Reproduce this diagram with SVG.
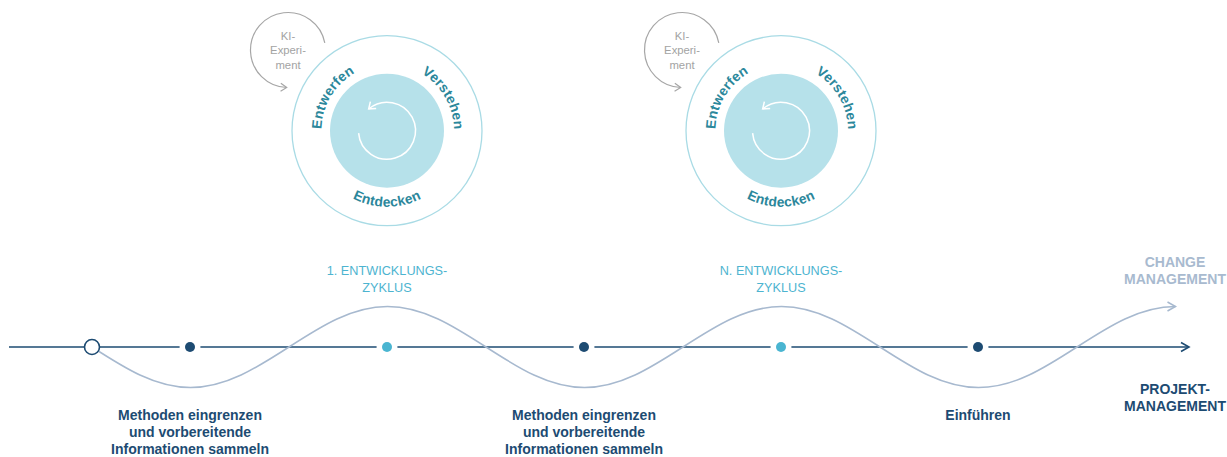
<svg xmlns="http://www.w3.org/2000/svg" xmlns:xlink="http://www.w3.org/1999/xlink" width="1227" height="457" viewBox="0 0 1227 457">
<style>
.ring{fill:none;stroke:#a9dbe5;stroke-width:1.3}
.core{fill:#b6e1ea}
.phase{font-family:"Liberation Sans",Arial,sans-serif;font-weight:bold;font-size:13.8px;fill:#2b879b;letter-spacing:0.2px}
.ki{font-family:"Liberation Sans",Arial,sans-serif;font-size:11.3px;fill:#a3a3a3;text-anchor:middle}
.kiarc{fill:none;stroke:#a6a6a6;stroke-width:1.2}
.inner{fill:none;stroke:#ffffff;stroke-width:1.5}
.cyc{font-family:"Liberation Sans",Arial,sans-serif;font-size:12.7px;fill:#4db4d0;text-anchor:middle}
.lbl{font-family:"Liberation Sans",Arial,sans-serif;font-weight:bold;font-size:14px;fill:#1d4b72;text-anchor:middle}
.chg{font-family:"Liberation Sans",Arial,sans-serif;font-weight:bold;font-size:14px;fill:#a8bacf;text-anchor:middle}
.main{fill:none;stroke:#1d4b72;stroke-width:1.6}
.wave{fill:none;stroke:#a7b9cf;stroke-width:1.5}
.halo{fill:#ffffff}
.dk{fill:#1d4b72}
.lt{fill:#4ab5d1}
</style>
<defs>
<marker id="arrMain" markerUnits="userSpaceOnUse" markerWidth="12" markerHeight="12" viewBox="-10 -6 12 12" refX="0" refY="0" orient="auto">
<path d="M-8,-4.5 L0,0 L-8,4.5" fill="none" stroke="#1d4b72" stroke-width="1.6"/>
</marker>
<marker id="arrWave" markerUnits="userSpaceOnUse" markerWidth="12" markerHeight="12" viewBox="-10 -6 12 12" refX="0" refY="0" orient="auto">
<path d="M-8,-4.5 L0,0 L-8,4.5" fill="none" stroke="#a7b9cf" stroke-width="1.5"/>
</marker>
<marker id="arrKi" markerUnits="userSpaceOnUse" markerWidth="12" markerHeight="12" viewBox="-10 -6 12 12" refX="0" refY="0" orient="auto">
<path d="M-6,-4 L0,0 L-6,4" fill="none" stroke="#a6a6a6" stroke-width="1.2"/>
</marker>
<marker id="arrWhite" markerUnits="userSpaceOnUse" markerWidth="12" markerHeight="12" viewBox="-10 -6 12 12" refX="0" refY="0" orient="auto">
<path d="M-6,-4.5 L0,0 L-6,4.5" fill="none" stroke="#ffffff" stroke-width="1.5"/>
</marker>
<path id="pEntwerfen" d="M-54.7,36.9 A67,67 0 0 1 6.9,-66.6"/>
<path id="pVerstehen" d="M-5.8,-66.7 A67,67 0 0 1 54.9,38.4"/>
<path id="pEntdecken" d="M-43.6,62.3 A76,76 0 0 0 43.6,62.3"/>
</defs>

<g id="connectors">
<path class="main" d="M9,347 H1189" marker-end="url(#arrMain)"/>
<path class="wave" d="M92,347 c32.1,20.7 62.85,40.5 98.5,40.5 c35.65,0 66.4,-19.8 98.5,-40.5 c32.1,-20.7 62.85,-40.5 98.5,-40.5 c35.650,0 66.4,19.8 98.5,40.5 c32.1,20.7 62.85,40.5 98.5,40.5 c35.65,0 66.4,-19.8 98.5,-40.5 c32.1,-20.7 62.85,-40.5 98.5,-40.5 c35.65,0 66.4,19.8 98.5,40.5 c32.1,20.7 62.85,40.5 98.5,40.5 c35.65,0 66.4,-19.8 98.5,-40.5 c32.1,-20.7 62.85,-40.5 98.5,-40.5" marker-end="url(#arrWave)"/>
</g>

<g id="start">
<circle cx="92" cy="347" r="7.5" fill="#ffffff" stroke="#1d4b72" stroke-width="1.6"/>
</g>
<g id="step1">
<circle class="halo" cx="190" cy="347" r="10.5"/>
<circle class="dk" cx="190" cy="347" r="5"/>
<text class="lbl" x="190" y="420">Methoden eingrenzen</text>
<text class="lbl" x="190" y="437">und vorbereitende</text>
<text class="lbl" x="190" y="454">Informationen sammeln</text>
</g>
<g id="cycle1">
<circle class="halo" cx="387" cy="347" r="10.5"/>
<circle class="lt" cx="387" cy="347" r="5"/>
<text class="cyc" x="387" y="275">1. ENTWICKLUNGS-</text>
<text class="cyc" x="387" y="292">ZYKLUS</text>
</g>
<g id="step2">
<circle class="halo" cx="584" cy="347" r="10.5"/>
<circle class="dk" cx="584" cy="347" r="5"/>
<text class="lbl" x="584" y="420">Methoden eingrenzen</text>
<text class="lbl" x="584" y="437">und vorbereitende</text>
<text class="lbl" x="584" y="454">Informationen sammeln</text>
</g>
<g id="cycleN">
<circle class="halo" cx="781" cy="347" r="10.5"/>
<circle class="lt" cx="781" cy="347" r="5"/>
<text class="cyc" x="781" y="275">N. ENTWICKLUNGS-</text>
<text class="cyc" x="781" y="292">ZYKLUS</text>
</g>
<g id="step3">
<circle class="halo" cx="978" cy="347" r="10.5"/>
<circle class="dk" cx="978" cy="347" r="5"/>
<text class="lbl" x="978" y="420">Einführen</text>
</g>
<g id="change">
<text class="chg" x="1175" y="267">CHANGE</text>
<text class="chg" x="1175" y="284">MANAGEMENT</text>
</g>
<g id="projekt">
<text class="lbl" x="1175" y="394">PROJEKT-</text>
<text class="lbl" x="1175" y="411">MANAGEMENT</text>
</g>

<g id="circle1" transform="translate(387,130.7)">
<circle class="ring" r="95"/>
<circle class="core" r="57"/>
<path class="inner" d="M-28.39,2.48 A28.5,28.5 0 1 0 -18.32,-21.83" marker-end="url(#arrWhite)"/>
<path class="kiarc" d="M-62.2,-87.85 A37.5,37.5 0 1 0 -100.3,-43.2" marker-end="url(#arrKi)"/>
<text class="ki" x="-99" y="-91.2">KI-</text>
<text class="ki" x="-99" y="-76.7">Experi-</text>
<text class="ki" x="-99" y="-62.2">ment</text>
<text class="phase"><textPath xlink:href="#pEntwerfen" href="#pEntwerfen" startOffset="50%" text-anchor="middle">Entwerfen</textPath></text>
<text class="phase"><textPath xlink:href="#pVerstehen" href="#pVerstehen" startOffset="50%" text-anchor="middle">Verstehen</textPath></text>
<text class="phase"><textPath xlink:href="#pEntdecken" href="#pEntdecken" startOffset="50%" text-anchor="middle">Entdecken</textPath></text>
</g>

<g id="circle2" transform="translate(781,130.7)">
<circle class="ring" r="95"/>
<circle class="core" r="57"/>
<path class="inner" d="M-28.39,2.48 A28.5,28.5 0 1 0 -18.32,-21.83" marker-end="url(#arrWhite)"/>
<path class="kiarc" d="M-62.2,-87.85 A37.5,37.5 0 1 0 -100.3,-43.2" marker-end="url(#arrKi)"/>
<text class="ki" x="-99" y="-91.2">KI-</text>
<text class="ki" x="-99" y="-76.7">Experi-</text>
<text class="ki" x="-99" y="-62.2">ment</text>
<text class="phase"><textPath xlink:href="#pEntwerfen" href="#pEntwerfen" startOffset="50%" text-anchor="middle">Entwerfen</textPath></text>
<text class="phase"><textPath xlink:href="#pVerstehen" href="#pVerstehen" startOffset="50%" text-anchor="middle">Verstehen</textPath></text>
<text class="phase"><textPath xlink:href="#pEntdecken" href="#pEntdecken" startOffset="50%" text-anchor="middle">Entdecken</textPath></text>
</g>
</svg>
